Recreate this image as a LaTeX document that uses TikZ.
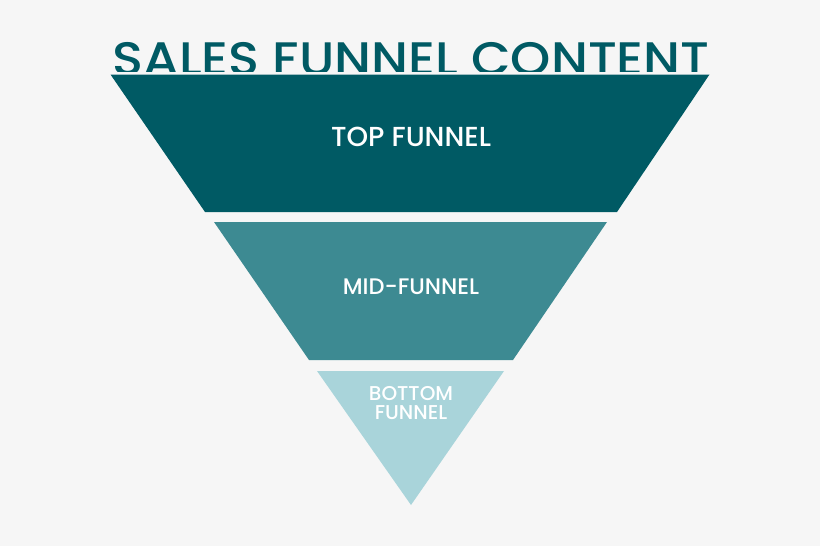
\documentclass[tikz,border=0pt]{standalone}
\usepackage{fontspec}
\setmainfont{Poppins}
\newfontfamily\titlefont{Poppins Medium}
\usepackage{xcolor}
\definecolor{deepteal}{HTML}{005A64}
\definecolor{midteal}{HTML}{3D8A92}
\definecolor{paleteal}{HTML}{A9D4DA}
\definecolor{paper}{HTML}{F6F6F6}
\usetikzlibrary{positioning}

\begin{document}
\begin{tikzpicture}[
      x=1pt, y=-1pt,
      label/.style={text=white, align=center, inner sep=0pt, font=\titlefont\fontsize{#1}{#1}\selectfont},
      stage/.style={fill=#1, draw=none},
    ]
      \fill[paper] (0,0) rectangle (820,546);
      \node[text=deepteal, anchor=base, inner sep=0pt, xscale=1.09,
        font=\titlefont\fontsize{47}{47}\selectfont] (title) at (411,75) {SALES FUNNEL CONTENT};
      % strip that cuts the title above the top stage
      \fill[paper] (100,72.3) rectangle (720,80);
      \fill[stage=deepteal] (110.5,74.5) -- (709.5,74.5) -- (617,212) -- (205,212) -- cycle;
      \fill[stage=midteal] (214,222) -- (607,222) -- (513,360) -- (309,360) -- cycle;
      \fill[stage=paleteal] (317,371) -- (504,371) -- (411,505) -- cycle;
      \node[label=27.5] (top) at (411,137) {TOP FUNNEL};
      \node[label=22.5] (mid) at (411,287) {MID-FUNNEL};
      \node[label=20, align=center, font=\titlefont\fontsize{20}{19}\selectfont] (bottom) at (411,403) {BOTTOM\\FUNNEL};
    \end{tikzpicture}
\end{document}
